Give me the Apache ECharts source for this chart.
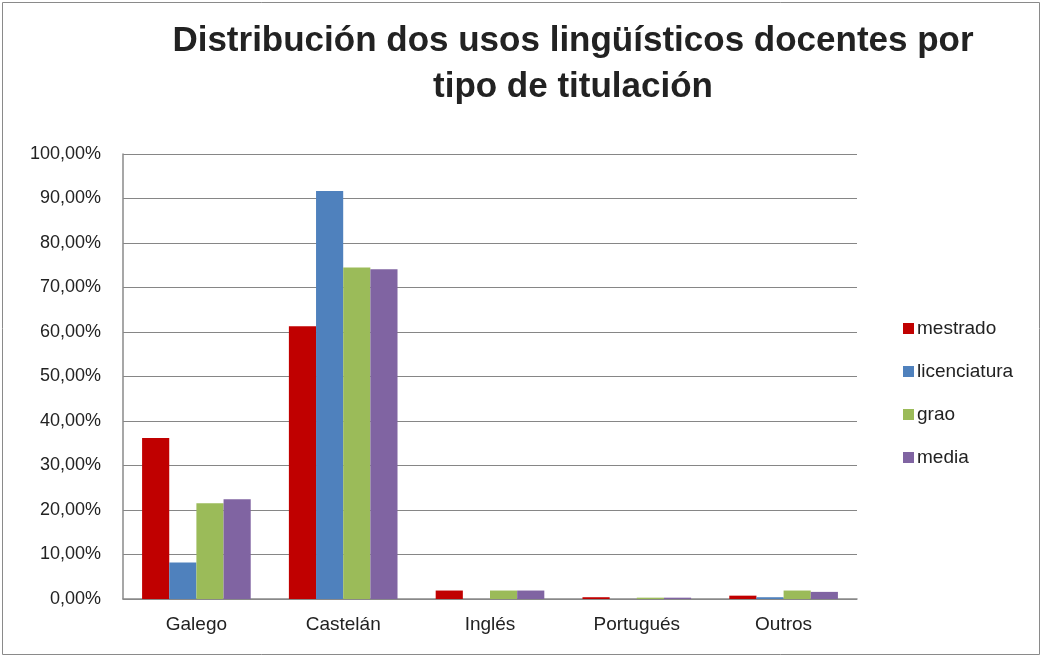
<!DOCTYPE html>
<html>
<head>
<meta charset="utf-8">
<script src="https://cdn.jsdelivr.net/npm/echarts@6/dist/echarts.min.js"></script>
<style>
html, body { margin: 0; padding: 0; background: #fff; }
#main { width: 1044px; height: 659px; }
</style>
</head>
<body>
<div id="main"></div>
<script>
var categories = ['Galego', 'Castelán', 'Inglés', 'Portugués', 'Outros'];
var mestrado = [36.2, 61.3, 1.9, 0.4, 0.75];
var licenciatura = [8.2, 91.7, 0, 0, 0.4];
var grao = [21.5, 74.5, 1.9, 0.3, 1.9];
var media = [22.4, 74.1, 1.9, 0.3, 1.6];

var fontFamily = '"Liberation Sans Narrow", "Arial Narrow", "Liberation Sans", Arial, sans-serif';
var textColor = '#222';

var chart = echarts.init(document.getElementById('main'));

function barSeries(name, data, color) {
	return {
		name: name,
		type: 'bar',
		data: data,
		barGap: '0%',
		barCategoryGap: '26%',
		itemStyle: { color: color },
		emphasis: { disabled: true }
	};
}

var option = {
	backgroundColor: '#fff',
	animation: false,
	textStyle: { fontFamily: fontFamily },
	graphic: [{
		type: 'rect',
		shape: { x: 2.5, y: 2.5, width: 1037, height: 652 },
		style: { fill: 'none', stroke: '#8a8a8a', lineWidth: 1 }
	}],
	title: {
		text: 'Distribución dos usos lingüísticos docentes por\ntipo de titulación',
		left: 568,
		top: 13,
		textAlign: 'center',
		textStyle: {
			fontFamily: fontFamily,
			fontSize: 35,
			fontWeight: 'bold',
			color: textColor,
			lineHeight: 46
		}
	},
	legend: {
		orient: 'vertical',
		left: 898,
		top: 314,
		itemWidth: 11,
		itemHeight: 11,
		itemGap: 24,
		icon: 'rect',
		data: ['mestrado', 'licenciatura', 'grao', 'media'],
		textStyle: { fontFamily: fontFamily, fontSize: 19, color: textColor, padding: [0, 0, 0, -2] }
	},
	grid: {
		left: 123,
		right: 187,
		top: 154,
		bottom: 60,
		containLabel: false
	},
	xAxis: {
		type: 'category',
		data: categories,
		axisLine: { lineStyle: { color: '#8a8a8a', width: 1.5 } },
		axisTick: { show: false },
		axisLabel: { fontFamily: fontFamily, fontSize: 19, color: textColor, margin: 16 }
	},
	yAxis: {
		type: 'value',
		min: 0,
		max: 100,
		interval: 10,
		axisLine: { show: true, lineStyle: { color: '#8a8a8a', width: 1.5 } },
		axisTick: { show: false },
		splitLine: { lineStyle: { color: '#868686', width: 1 } },
		axisLabel: {
			fontFamily: fontFamily,
			fontSize: 18,
			color: textColor,
			margin: 22,
			formatter: function (v) { return v.toFixed(2).replace('.', ',') + '%'; }
		}
	},
	series: [
		barSeries('mestrado', mestrado, '#c00000'),
		barSeries('licenciatura', licenciatura, '#4f81bd'),
		barSeries('grao', grao, '#9bbb59'),
		barSeries('media', media, '#8064a2')
	]
};

chart.setOption(option);
</script>
</body>
</html>
